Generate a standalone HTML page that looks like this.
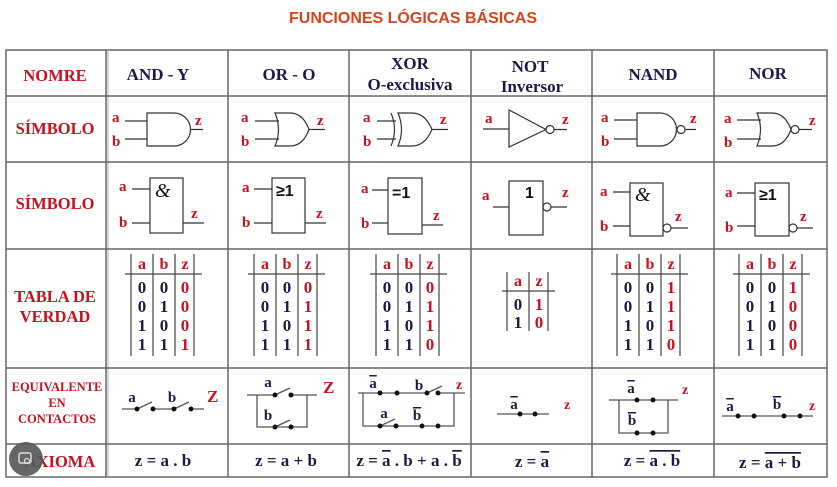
<!DOCTYPE html>
<html><head><meta charset="utf-8"><style>
html,body{margin:0;padding:0;background:#fff;}
svg{display:block;}
.r{fill:#c8101e;font-family:"Liberation Serif",serif;font-weight:bold;}
.n{fill:#1a1a4a;font-family:"Liberation Serif",serif;font-weight:bold;}
.g{fill:none;stroke:#333;stroke-width:1.2;}
.ol{text-decoration:overline;}
</style></head><body>
<svg width="837" height="487" viewBox="0 0 837 487" xmlns="http://www.w3.org/2000/svg">
<text x="413" y="23" text-anchor="middle" font-family="Liberation Sans,sans-serif" font-weight="bold" font-size="16" fill="#d8431c">FUNCIONES LÓGICAS BÁSICAS</text>
<g stroke="#666" stroke-width="1.5" fill="none">
<rect x="6" y="50" width="821" height="427"/>
<line x1="106" y1="50" x2="106" y2="477"/><line x1="108" y1="50" x2="108" y2="477" stroke="#aaa" stroke-width="1"/>
<line x1="228" y1="50" x2="228" y2="477"/><line x1="349" y1="50" x2="349" y2="477"/>
<line x1="471" y1="50" x2="471" y2="477"/><line x1="592" y1="50" x2="592" y2="477"/>
<line x1="714" y1="50" x2="714" y2="477"/>
<line x1="6" y1="96" x2="827" y2="96"/><line x1="6" y1="162" x2="827" y2="162"/>
<line x1="6" y1="249" x2="827" y2="249"/><line x1="6" y1="368" x2="827" y2="368"/>
<line x1="6" y1="444" x2="827" y2="444"/>
</g>
<g class="r" text-anchor="middle" font-size="16.5">
<text x="55" y="81">NOMRE</text>
<text x="55" y="134">SÍMBOLO</text>
<text x="55" y="209">SÍMBOLO</text>
<text x="55" y="302">TABLA DE</text>
<text x="55" y="322">VERDAD</text>
<text x="57" y="391" font-size="12.5">EQUIVALENTE</text>
<text x="57" y="407" font-size="12.5">EN</text>
<text x="57" y="423" font-size="12.5">CONTACTOS</text>
<text x="60" y="467">AXIOMA</text>
</g>
<circle cx="26" cy="459" r="17" fill="#555" opacity="0.9"/>
<rect x="19" y="453" width="12" height="10" rx="2" fill="none" stroke="#ddd" stroke-width="1.5"/>
<circle cx="27" cy="461" r="2.5" fill="none" stroke="#ddd" stroke-width="1.3"/>
<g class="n" text-anchor="middle" font-size="17">
<text x="158" y="80">AND  -  Y</text>
<text x="289" y="80">OR - O</text>
<text x="410" y="69">XOR</text>
<text x="410" y="90">O-exclusiva</text>
<text x="530" y="72">NOT</text>
<text x="532" y="92">Inversor</text>
<text x="653" y="80">NAND</text>
<text x="768" y="79">NOR</text>
</g>
<g class="g">
<path d="M125,121H147M125,139H147M147,113H174A16.5,16.5 0 0 1 174,146H147ZM190.5,129.5H203"/>
<path d="M255,121H279M255,139H279M275,113H290Q303,113 309,129.5Q303,146 290,146H275Q282,129.5 275,113ZM309,129.5H325"/>
<path d="M377,121H396M377,139H396M391,113Q398,129.5 391,146M398,113H412Q425,113 432,129.5Q425,146 412,146H398Q405,129.5 398,113ZM432,129.5H448"/>
<path d="M483,129H509M509,110L509,147L546,129.5ZM554,129.5H567"/><circle cx="550" cy="129.5" r="4"/>
<path d="M614,120H637M614,139H637M637,113H660A16.5,16.5 0 0 1 660,146H637ZM685,129.5H696"/><circle cx="681" cy="129.5" r="4"/>
<path d="M737,120H761M737,139H761M757,113H772Q785,113 791,129.5Q785,146 772,146H757Q764,129.5 757,113ZM799,129.5H812"/><circle cx="795" cy="129.5" r="4"/>
</g>
<g class="r" font-size="15">
<text x="112" y="122">a</text><text x="112" y="146">b</text><text x="195" y="125">z</text>
<text x="241" y="122">a</text><text x="241" y="146">b</text><text x="317" y="125">z</text>
<text x="363" y="122">a</text><text x="363" y="146">b</text><text x="440" y="124">z</text>
<text x="485" y="123">a</text><text x="562" y="124">z</text>
<text x="601" y="122">a</text><text x="601" y="146">b</text><text x="690" y="123">z</text>
<text x="724" y="123">a</text><text x="724" y="147">b</text><text x="809" y="125">z</text>
</g>
<g class="g">
<path d="M132,189H150M132,223H150M183,223H204"/><rect x="150" y="178" width="33" height="55"/>
<path d="M254,189H272M254,223H272M305,223H326"/><rect x="272" y="178" width="33" height="55"/>
<path d="M372,190H388M372,223H388M422,225H443"/><rect x="388" y="178" width="34" height="56"/>
<path d="M493,207H509M551,207H567"/><rect x="509" y="181" width="34" height="54"/><circle cx="547" cy="207" r="4"/>
<path d="M613,192H630M613,226H630M671,228H688"/><rect x="630" y="183" width="33" height="53"/><circle cx="667" cy="228" r="4"/>
<path d="M737,193H755M737,226H755M797,228H813"/><rect x="755" y="183" width="34" height="53"/><circle cx="793" cy="228" r="4"/>
</g>
<g font-family="Liberation Sans,sans-serif" font-size="16" font-weight="bold" fill="#111">
<text x="155" y="197" font-family="Liberation Serif,serif" font-weight="normal" font-style="italic" font-size="20">&amp;</text>
<text x="276" y="196">≥1</text>
<text x="392" y="198">=1</text>
<text x="525" y="198">1</text>
<text x="635" y="201" font-family="Liberation Serif,serif" font-weight="normal" font-style="italic" font-size="20">&amp;</text>
<text x="759" y="200">≥1</text>
</g>
<g class="r" font-size="15">
<text x="119" y="191">a</text><text x="119" y="227">b</text><text x="191" y="218">z</text>
<text x="242" y="192">a</text><text x="242" y="227">b</text><text x="316" y="218">z</text>
<text x="361" y="193">a</text><text x="361" y="228">b</text><text x="433" y="220">z</text>
<text x="482" y="200">a</text><text x="562" y="197">z</text>
<text x="600" y="196">a</text><text x="600" y="231">b</text><text x="675" y="221">z</text>
<text x="725" y="197">a</text><text x="725" y="232">b</text><text x="800" y="221">z</text>
</g>
<g id="tt">
<path d="M131,254V356M153,254V356M175,254V356M194,254V356M125,274H202" stroke="#444" stroke-width="1.2" fill="none"/>
<g class="r" font-size="16" text-anchor="middle"><text x="142" y="269">a</text><text x="164" y="269">b</text><text x="185" y="269">z</text></g>
<g class="n" font-size="17" text-anchor="middle">
<text x="142" y="293">0</text><text x="142" y="312">0</text><text x="142" y="331">1</text><text x="142" y="350">1</text>
<text x="164" y="293">0</text><text x="164" y="312">1</text><text x="164" y="331">0</text><text x="164" y="350">1</text>
</g>
</g>
<use href="#tt" x="123"/><use href="#tt" x="245"/><use href="#tt" x="486"/><use href="#tt" x="608"/>
<g class="r" font-size="17" text-anchor="middle">
<text x="185" y="293">0</text><text x="185" y="312">0</text><text x="185" y="331">0</text><text x="185" y="350">1</text>
<text x="308" y="293">0</text><text x="308" y="312">1</text><text x="308" y="331">1</text><text x="308" y="350">1</text>
<text x="430" y="293">0</text><text x="430" y="312">1</text><text x="430" y="331">1</text><text x="430" y="350">0</text>
<text x="671" y="293">1</text><text x="671" y="312">1</text><text x="671" y="331">1</text><text x="671" y="350">0</text>
<text x="793" y="293">1</text><text x="793" y="312">0</text><text x="793" y="331">0</text><text x="793" y="350">0</text>
</g>
<path d="M507,272V331M529,272V331M548,272V331M502,291H555" stroke="#444" stroke-width="1.2" fill="none"/>
<g class="r" font-size="16" text-anchor="middle"><text x="518" y="286">a</text><text x="539" y="286">z</text></g>
<g font-size="17" text-anchor="middle">
<text class="n" x="518" y="310">0</text><text class="n" x="518" y="328">1</text>
<text class="r" x="539" y="310">1</text><text class="r" x="539" y="328">0</text>
</g>
<g stroke="#555" stroke-width="1.3" fill="none">
<path d="M122,409H137M153,409H174M191,409H204M137,409L152,402M174,409L189,402"/>
<path d="M247,395H275M291,395H317M275,395L290,388M257,395V427H307V395M275,427L290,420"/>
<path d="M358,393H427M438,393H465M427,393L442,386M363,393V426H454V393M380,426L395,419"/>
<path d="M497,414H549"/>
<path d="M609,400H678M619,400V433H668V400"/>
<path d="M722,416H813"/>
</g>
<g fill="#111">
<circle cx="137" cy="409" r="2.5"/><circle cx="153" cy="409" r="2.5"/><circle cx="174" cy="409" r="2.5"/><circle cx="191" cy="409" r="2.5"/>
<circle cx="275" cy="395" r="2.5"/><circle cx="291" cy="395" r="2.5"/><circle cx="275" cy="427" r="2.5"/><circle cx="291" cy="427" r="2.5"/>
<circle cx="380" cy="393" r="2.5"/><circle cx="397" cy="393" r="2.5"/><circle cx="427" cy="393" r="2.5"/><circle cx="438" cy="393" r="2.5"/>
<circle cx="380" cy="426" r="2.5"/><circle cx="396" cy="426" r="2.5"/><circle cx="422" cy="426" r="2.5"/><circle cx="438" cy="426" r="2.5"/>
<circle cx="520" cy="414" r="2.5"/><circle cx="535" cy="414" r="2.5"/>
<circle cx="637" cy="400" r="2.5"/><circle cx="653" cy="400" r="2.5"/><circle cx="637" cy="433" r="2.5"/><circle cx="653" cy="433" r="2.5"/>
<circle cx="738" cy="416" r="2.5"/><circle cx="754" cy="416" r="2.5"/><circle cx="784" cy="416" r="2.5"/><circle cx="800" cy="416" r="2.5"/>
</g>
<g class="n" font-size="15" text-anchor="middle">
<text x="132" y="402">a</text><text x="172" y="402">b</text>
<text x="268" y="387">a</text><text x="268" y="420">b</text>
<text x="373" y="388" class="n ol">a</text><text x="419" y="390">b</text>
<text x="384" y="418">a</text><text x="417" y="420" class="n ol">b</text>
<text x="514" y="409" class="n ol">a</text>
<text x="631" y="393" class="n ol">a</text><text x="632" y="425" class="n ol">b</text>
<text x="730" y="411" class="n ol">a</text><text x="777" y="409" class="n ol">b</text>
</g>
<g class="r" font-size="17">
<text x="207" y="402">Z</text><text x="323" y="393">Z</text>
</g>
<g class="r" font-size="14">
<text x="456" y="389">z</text><text x="564" y="409">z</text><text x="682" y="394">z</text><text x="809" y="410">z</text>
</g>
<g class="n" font-size="17" text-anchor="middle">
<text x="163" y="466">z = a . b</text>
<text x="286" y="466">z = a + b</text>
<text x="409" y="466">z = <tspan class="ol">a</tspan> . b + a . <tspan class="ol">b</tspan></text>
<text x="532" y="467">z = <tspan class="ol">a</tspan></text>
<text x="652" y="466">z = <tspan class="ol">a . b</tspan></text>
<text x="770" y="468">z = <tspan class="ol">a + b</tspan></text>
</g>
</svg>
</body></html>
